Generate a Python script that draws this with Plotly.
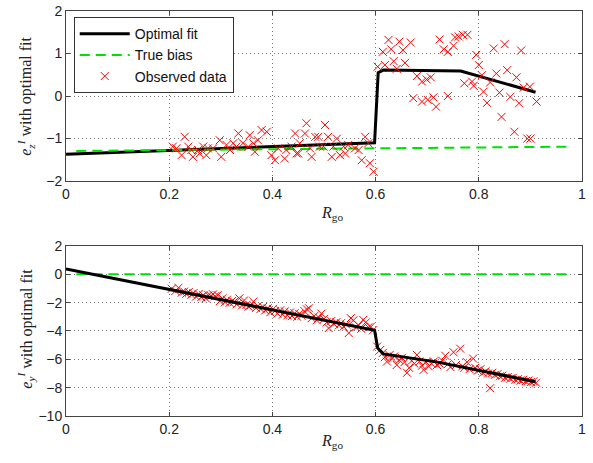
import plotly.graph_objects as go

# ---------------- data ----------------
# top panel: e_z^I
top_obs_x = [0.207, 0.230, 0.224, 0.214, 0.237, 0.246, 0.259, 0.256, 0.266, 0.272,
             0.285, 0.298, 0.301, 0.311, 0.318, 0.324, 0.334, 0.330, 0.343, 0.356,
             0.353, 0.363, 0.366, 0.372, 0.379, 0.389, 0.398, 0.405, 0.411, 0.424,
             0.427, 0.437, 0.444, 0.450, 0.243, 0.275,
             0.463, 0.466, 0.483, 0.502, 0.489, 0.508, 0.525, 0.447, 0.476, 0.515,
             0.531, 0.547, 0.567, 0.573, 0.589, 0.596, 0.580, 0.586, 0.560, 0.538,
             0.492, 0.453, 0.473, 0.499, 0.518, 0.541,
             0.625, 0.646, 0.668, 0.614, 0.630, 0.653, 0.604, 0.618, 0.635, 0.657,
             0.641, 0.680, 0.690, 0.699, 0.707, 0.673, 0.690, 0.701, 0.712, 0.717,
             0.740, 0.724, 0.732, 0.740, 0.751, 0.754, 0.761, 0.769, 0.778, 0.795,
             0.800, 0.806, 0.787, 0.772, 0.790, 0.809, 0.816, 0.822, 0.834, 0.840,
             0.829, 0.850, 0.855, 0.861, 0.869, 0.873, 0.878, 0.882, 0.887, 0.894,
             0.900, 0.899, 0.912, 0.844]
top_obs_y = [-1.19, -0.96, -1.39, -1.23, -1.19, -1.43, -1.35, -1.27, -1.19, -1.39,
             -1.23, -1.04, -1.43, -1.15, -1.27, -1.11, -0.88, -1.19, -1.11, -0.92,
             -1.19, -1.11, -1.31, -1.04, -0.80, -0.84, -1.39, -1.51, -1.23, -1.47,
             -1.27, -1.19, -0.88, -1.35, -1.27, -1.23,
             -0.88, -0.64, -0.96, -0.68, -0.96, -0.96, -1.00, -1.35, -1.43, -1.43,
             -1.39, -1.15, -1.27, -1.51, -1.58, -1.78, -0.96, -1.11, -1.23, -1.19,
             -1.19, -1.11, -1.23, -1.19, -1.19, -1.35,
             1.32, 1.28, 1.26, 1.04, 1.10, 1.08, 0.69, 0.73, 0.82, 0.78,
             0.64, 0.47, 0.34, 0.39, 0.44, -0.05, -0.13, -0.09, -0.03, -0.25,
             0.00, 1.33, 1.10, 1.04, 1.18, 1.38, 1.40, 1.44, 1.44, 0.97,
             0.73, 0.49, 0.34, 0.30, 0.24, 0.10, -0.16, 0.32, 0.53, 0.08,
             1.12, 1.22, 0.61, -0.02, -0.84, 0.44, -0.17, 1.07, 0.20, -1.00,
             -1.00, 0.22, -0.13, -0.49]
top_fit_x = [0.0, 0.598, 0.605, 0.615, 0.765, 0.91]
top_fit_y = [-1.37, -1.10, 0.55, 0.61, 0.59, 0.09]
top_true_x = [0.02, 0.98]
top_true_y = [-1.29, -1.19]

# bottom panel: e_y^I
bot_obs_x = [0.205, 0.212, 0.218, 0.224, 0.229, 0.233, 0.238, 0.243, 0.247, 0.252,
             0.257, 0.262, 0.266, 0.271, 0.276, 0.281, 0.285, 0.289, 0.294, 0.298,
             0.303, 0.308, 0.312, 0.317, 0.322, 0.326, 0.331, 0.336, 0.341, 0.345,
             0.350, 0.354, 0.358, 0.363, 0.368, 0.372, 0.377, 0.382, 0.386, 0.391,
             0.396, 0.401, 0.405, 0.410, 0.415, 0.420, 0.424, 0.429, 0.434, 0.438,
             0.443, 0.448, 0.452, 0.457, 0.462, 0.467, 0.471, 0.476, 0.481, 0.486,
             0.490, 0.495, 0.500, 0.505, 0.509, 0.514, 0.519, 0.524, 0.529, 0.533,
             0.538, 0.543, 0.548, 0.552, 0.557, 0.562, 0.567, 0.572, 0.576, 0.581,
             0.586, 0.591, 0.595,
             0.603, 0.609, 0.614, 0.618, 0.622, 0.627, 0.632, 0.636, 0.641, 0.646,
             0.651, 0.656, 0.661, 0.665, 0.670, 0.675, 0.680, 0.685, 0.690, 0.693,
             0.698, 0.703, 0.708, 0.713, 0.719, 0.724, 0.729, 0.735, 0.740, 0.745,
             0.751, 0.756, 0.764, 0.768, 0.772, 0.777, 0.782, 0.789, 0.793, 0.798,
             0.803, 0.808, 0.813, 0.818, 0.822, 0.826, 0.831, 0.836, 0.841, 0.846,
             0.851, 0.856, 0.861, 0.866, 0.871, 0.876, 0.881, 0.886, 0.891, 0.896,
             0.901, 0.906, 0.911]
bot_obs_y = [-1.02, -1.18, -0.95, -1.30, -1.22, -1.38, -1.25, -1.45, -1.33, -1.58,
             -1.40, -1.62, -1.48, -1.70, -1.48, -1.52, -1.42, -1.55, -1.48, -1.90,
             -1.70, -1.98, -1.80, -2.02, -1.88, -1.95, -2.12, -1.70, -2.20, -1.85,
             -2.15, -2.28, -2.20, -1.93, -2.38, -2.25, -2.45, -2.30, -2.55, -2.40,
             -2.68, -2.45, -2.60, -2.78, -2.55, -2.85, -2.62, -2.90, -2.70, -2.95,
             -2.75, -3.00, -2.80, -2.92, -2.60, -2.48, -2.40, -3.10, -2.95, -3.25,
             -3.05, -2.78, -3.15, -3.40, -3.80, -3.30, -3.50, -3.38, -3.60, -3.45,
             -3.70, -3.55, -4.15, -3.10, -3.25, -3.75, -3.60, -3.85, -3.22, -3.40,
             -3.75, -3.70, -3.95,
             -5.10, -5.34, -5.55, -5.85, -6.16, -5.70, -5.95, -5.80, -6.40, -6.05,
             -5.90, -6.20, -6.95, -6.60, -6.10, -6.30, -5.69, -6.15, -6.45, -6.75,
             -6.20, -6.50, -6.30, -6.15, -6.40, -6.30, -6.10, -5.75, -6.35, -6.55,
             -5.50, -6.40, -5.25, -6.50, -6.60, -6.20, -6.70, -5.95, -6.60, -6.80,
             -6.70, -6.95, -6.85, -7.00, -8.04, -6.95, -7.10, -7.05, -7.20, -7.15,
             -7.30, -7.25, -7.35, -7.30, -7.45, -7.40, -7.50, -7.45, -7.55, -7.50,
             -7.60, -7.55, -7.65]
bot_fit_x = [0.0, 0.598, 0.604, 0.615, 0.72, 0.91]
bot_fit_y = [0.38, -3.95, -5.20, -5.62, -6.20, -7.58]
bot_true_x = [0.02, 0.98]
bot_true_y = [0.0, 0.0]

x_ticks = [0, 0.2, 0.4, 0.6, 0.8, 1]
x_tick_text = ["0", "0.2", "0.4", "0.6", "0.8", "1"]
top_y_ticks = [-2, -1, 0, 1, 2]
bot_y_ticks = [-10, -8, -6, -4, -2, 0, 2]

x_label = "<i>R</i><sub>go</sub>"
top_y_label = "<i>e</i><sub><i>z</i></sub><sup><i>I</i></sup> with optimal fit"
bot_y_label = "<i>e</i><sub><i>y</i></sub><sup><i>I</i></sup> with optimal fit"

# ---------------- figure ----------------
fig = go.Figure()

line_fit = dict(color="black", width=3)
line_true = dict(color="#00e000", width=2, dash="10px,6px")
mk = dict(symbol="x-thin", size=8, color="red", line=dict(color="red", width=1))

fig.add_trace(go.Scatter(x=top_fit_x, y=top_fit_y, mode="lines", line=line_fit,
                         name="Optimal fit", xaxis="x", yaxis="y"))
fig.add_trace(go.Scatter(x=top_true_x, y=top_true_y, mode="lines", line=line_true,
                         name="True bias", xaxis="x", yaxis="y"))
fig.add_trace(go.Scatter(x=top_obs_x, y=top_obs_y, mode="markers", marker=mk,
                         name="Observed data", xaxis="x", yaxis="y"))

fig.add_trace(go.Scatter(x=bot_true_x, y=bot_true_y, mode="lines", line=line_true,
                         showlegend=False, xaxis="x2", yaxis="y2"))
fig.add_trace(go.Scatter(x=bot_obs_x, y=bot_obs_y, mode="markers", marker=mk,
                         showlegend=False, xaxis="x2", yaxis="y2"))
fig.add_trace(go.Scatter(x=bot_fit_x, y=bot_fit_y, mode="lines", line=line_fit,
                         showlegend=False, xaxis="x2", yaxis="y2"))

axis_common = dict(
    showline=True, linecolor="#444", linewidth=1, mirror="ticks",
    ticks="inside", ticklen=4, tickcolor="#444",
    showgrid=True, gridcolor="#777", griddash="1px,3px", gridwidth=1,
    zeroline=False, automargin=False,
    tickfont=dict(family="Liberation Sans, Arial", size=14, color="#222"),
)
label_font = dict(family="Liberation Serif, DejaVu Serif", size=16, color="#222")

fig.update_layout(
    width=593, height=463,
    margin=dict(l=66, r=11, t=11, b=47),
    paper_bgcolor="white", plot_bgcolor="white",
    xaxis=dict(domain=[0, 1], range=[0, 1], tickvals=x_ticks, ticktext=x_tick_text,
               anchor="y", **axis_common),
    yaxis=dict(domain=[0.58, 1.0], range=[-2, 2], tickvals=top_y_ticks, anchor="x",
               **axis_common),
    xaxis2=dict(domain=[0, 1], range=[0, 1], tickvals=x_ticks, ticktext=x_tick_text,
                anchor="y2", **axis_common),
    yaxis2=dict(domain=[0, 0.42], range=[-10, 2], tickvals=bot_y_ticks, anchor="x2",
                **axis_common),
    legend=dict(x=0.015, y=0.985, xanchor="left", yanchor="top",
                bgcolor="white", bordercolor="#333", borderwidth=1,
                font=dict(family="Liberation Sans, Arial", size=14, color="#111"),
                tracegroupgap=0, itemwidth=50),
    showlegend=True,
)

# axis titles placed as annotations for precise positioning
for txt, x, y, ang in [(x_label, 0.516, 0.500, 0),
                       (x_label, 0.516, -0.062, 0),
                       (top_y_label, -0.078, 0.79, -90),
                       (bot_y_label, -0.078, 0.215, -90)]:
    fig.add_annotation(text=txt, x=x, y=y, xref="paper", yref="paper",
                       xanchor="center", yanchor="middle", textangle=ang,
                       showarrow=False, font=label_font)

fig.write_html("out.html", config={"displayModeBar": False},
               post_script="document.body.style.margin='0';document.body.style.overflow='hidden';")
